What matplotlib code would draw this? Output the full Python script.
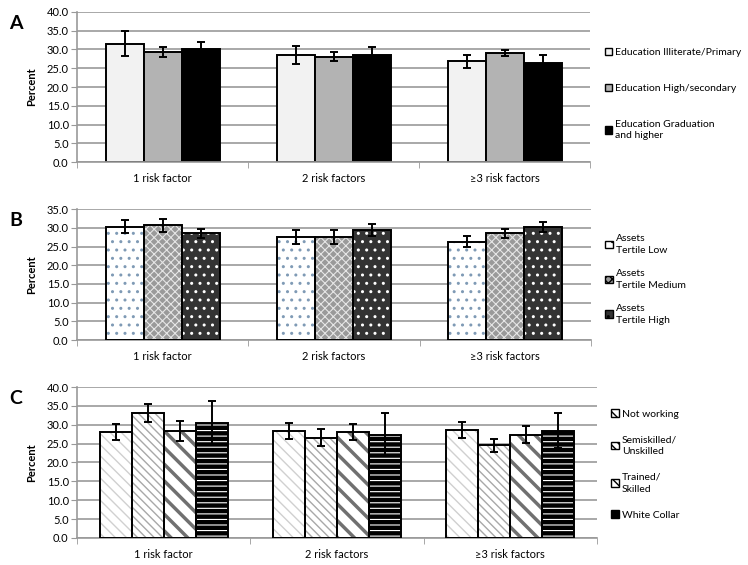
import matplotlib
matplotlib.use("Agg")
import matplotlib.pyplot as plt
from matplotlib.patches import Patch
import numpy as np

plt.rcParams['font.family'] = ['Lato', 'DejaVu Sans']

categories = ['1 risk factor', '2 risk factors', '\u22653 risk factors']

# panel A - education
edu_labels = ['Education Illiterate/Primary', 'Education High/secondary',
              'Education Graduation\nand higher']
edu_vals = [[31.5, 28.5, 26.8], [29.3, 28.1, 29.0], [30.0, 28.6, 26.5]]
edu_err = [[3.3, 2.3, 1.8], [1.3, 1.2, 0.8], [1.9, 2.1, 2.0]]

# panel B - assets
ast_labels = ['Assets\nTertile Low', 'Assets\nTertile Medium', 'Assets\nTertile High']
ast_vals = [[30.3, 27.6, 26.3], [30.7, 27.6, 28.5], [28.6, 29.4, 30.3]]
ast_err = [[1.7, 1.8, 1.5], [1.7, 1.8, 1.3], [1.2, 1.7, 1.3]]

# panel C - occupation
occ_labels = ['Not working', 'Semiskilled/\nUnskilled', 'Trained/\nSkilled', 'White Collar']
occ_vals = [[28.0, 28.3, 28.5], [33.1, 26.6, 24.5], [28.3, 28.0, 27.4], [30.5, 27.4, 28.4]]
occ_err = [[2.1, 2.2, 2.1], [2.4, 2.2, 1.7], [2.6, 2.1, 2.3], [5.9, 5.6, 4.6]]

# (face, hatch, hatch colour, hatch width)
edu_style = [('#f2f2f2', None, None, 1), ('#b3b3b3', None, None, 1), ('#000000', None, None, 1)]
ast_style = [('white', '..', '#7f9ab5', 1), ('#9a9a9a', 'xxxx', '#e6e6e6', 0.8),
             ('#333333', '..', 'white', 1)]
occ_style = [('white', '\\\\\\', '#d0d0d0', 1), ('white', '\\\\\\\\', '#a8a8a8', 1),
             ('white', '\\\\', '#707070', 2.5), ('#000000', '---', 'white', 0.8)]

fig = plt.figure(figsize=(7.48, 5.65), dpi=100)


def panel(rect, vals, errs, styles, labels, ymax, bw, letter, leg_y, leg_sp):
    ax = fig.add_axes(rect)
    x = np.arange(len(categories))
    n = len(vals)
    for i in range(n):
        pos = x + (i - (n - 1) / 2) * bw
        face, hatch, hc, hw = styles[i]
        if hatch:
            with plt.rc_context({'hatch.linewidth': hw}):
                ax.bar(pos, vals[i], bw, color=face, hatch=hatch, edgecolor=hc, lw=0, zorder=2)
            ax.bar(pos, vals[i], bw, fill=False, edgecolor='black', lw=1.4, zorder=3)
        else:
            ax.bar(pos, vals[i], bw, color=face, edgecolor='black', lw=1.4, zorder=2)
        ax.errorbar(pos, vals[i], yerr=errs[i], fmt='none', ecolor='black',
                    elinewidth=1.4, capsize=3, capthick=1.4, zorder=4)
    ax.set_xlim(-0.5, len(categories) - 0.5)
    ax.set_ylim(0, ymax)
    ax.set_yticks(np.arange(0, ymax + 0.1, 5))
    ax.set_yticklabels(['%.1f' % v for v in np.arange(0, ymax + 0.1, 5)], fontsize=8)
    ax.set_xticks(x)
    ax.set_xticklabels(categories, fontsize=8)
    ax.set_xticks(np.arange(-0.5, len(categories)), minor=True)
    ax.tick_params(axis='x', which='major', length=0, pad=8)
    ax.tick_params(axis='x', which='minor', length=4, color='#999999')
    ax.tick_params(axis='y', length=4, color='#999999', pad=2)
    ax.grid(axis='y', color='#999999', lw=1.2, zorder=0)
    ax.set_axisbelow(True)
    for s in ['top', 'right']:
        ax.spines[s].set_visible(False)
    for s in ['left', 'bottom']:
        ax.spines[s].set_color('#999999')
        ax.spines[s].set_linewidth(1.2)
    ax.set_ylabel('Percent', fontsize=8, fontweight='bold', labelpad=7)
    fig.text(0.012, rect[1] + rect[3] - 0.02, letter, fontsize=14, fontweight='bold',
             va='center')
    handles = []
    with plt.rc_context({'hatch.linewidth': 0.6}):
        for face, hatch, hc, hw in styles:
            handles.append(Patch(facecolor=face, edgecolor='black', lw=1.0, hatch=hatch))
    leg = ax.legend(handles, labels, loc='upper left', bbox_to_anchor=(1.02, leg_y),
                    frameon=False, fontsize=7.5, handlelength=0.75, handleheight=0.75,
                    handletextpad=0.25, labelspacing=leg_sp, borderaxespad=0)
    for t in leg.get_texts():
        t.set_linespacing(1.4)
    return ax


panel([0.103, 0.713, 0.686, 0.266], edu_vals, edu_err, edu_style, edu_labels,
      40, 0.222, 'A', 0.79, 2.55)
panel([0.103, 0.398, 0.687, 0.232], ast_vals, ast_err, ast_style, ast_labels,
      35, 0.222, 'B', 0.84, 1.35)
panel([0.103, 0.048, 0.695, 0.267], occ_vals, occ_err, occ_style, occ_labels,
      40, 0.185, 'C', 0.88, 1.6)

fig.savefig('out.png', dpi=100)
